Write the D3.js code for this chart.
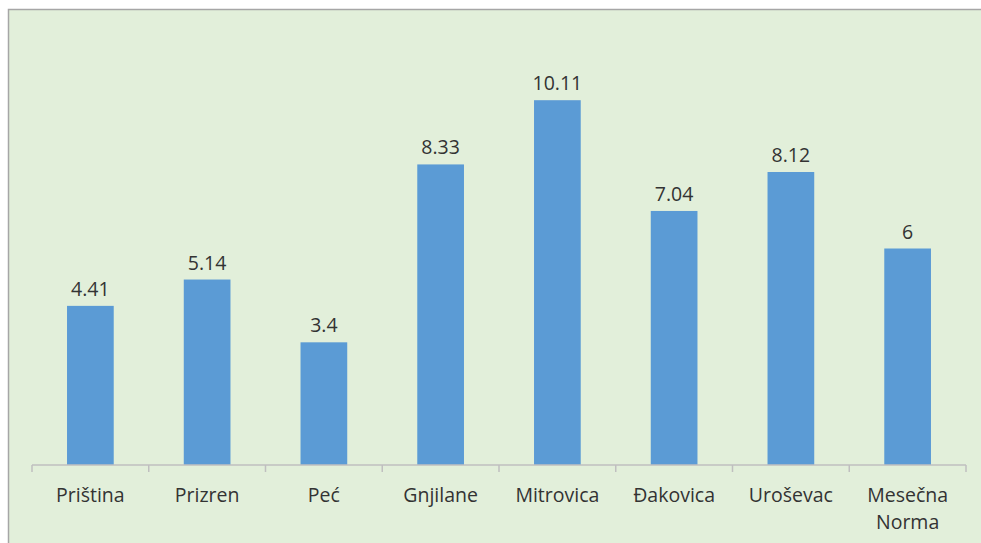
<!DOCTYPE html>
<html><head><meta charset="utf-8">
<script src="https://cdn.jsdelivr.net/npm/d3@7"></script>
<style>body{margin:0;background:#fff;} svg{display:block;}</style>
</head><body>
<script>
const categories = ["Priština","Prizren","Peć","Gnjilane","Mitrovica","Đakovica","Uroševac","Mesečna Norma"];
const values = [4.41,5.14,3.4,8.33,10.11,7.04,8.12,6];
const valueLabels = ["4.41","5.14","3.4","8.33","10.11","7.04","8.12","6"];

const W=981,H=543;
const svg=d3.select("body").append("svg").attr("width",W).attr("height",H);
svg.append("rect").attr("x",8.5).attr("y",9.5).attr("width",W).attr("height",H)
  .attr("fill","#E2EFDA").attr("stroke","#A6A6A6").attr("stroke-width",1.5);

const x=d3.scaleBand().domain(categories).range([32,966]).paddingInner(0).paddingOuter(0);
const y=d3.scaleLinear().domain([0,12]).range([465,32]);
const bw=x.bandwidth()/2.5;
const font="'Open Sans', sans-serif";

svg.selectAll("rect.bar").data(values).enter().append("rect").attr("class","bar")
  .attr("x",(d,i)=>x(categories[i])+(x.bandwidth()-bw)/2)
  .attr("y",d=>y(d)).attr("width",bw).attr("height",d=>y(0)-y(d))
  .attr("fill","#5B9BD5");

svg.selectAll("text.val").data(values).enter().append("text").attr("class","val")
  .attr("x",(d,i)=>x(categories[i])+x.bandwidth()/2)
  .attr("y",d=>y(d)-10).attr("text-anchor","middle")
  .attr("font-family",font).attr("font-size",19.5).attr("fill","#333333")
  .text((d,i)=>valueLabels[i]);

const ax=svg.append("g").attr("transform","translate(0,465)");
ax.append("line").attr("x1",32).attr("x2",966).attr("stroke","#BFBFBF").attr("stroke-width",1.5);
const ticks=categories.map(c=>x(c)).concat([x.range()[1]]);
ax.selectAll("line.t").data(ticks).enter().append("line").attr("class","t")
  .attr("x1",d=>d).attr("x2",d=>d).attr("y1",0).attr("y2",7)
  .attr("stroke","#BFBFBF").attr("stroke-width",1.5);

categories.forEach(c=>{
  const words=c.split(" ");
  const t=svg.append("text").attr("x",x(c)+x.bandwidth()/2).attr("y",502)
    .attr("text-anchor","middle").attr("font-family",font).attr("font-size",19.5).attr("fill","#333333");
  words.forEach((w,i)=>t.append("tspan").attr("x",x(c)+x.bandwidth()/2).attr("dy",i?27:0).text(w));
});
</script>
</body></html>
